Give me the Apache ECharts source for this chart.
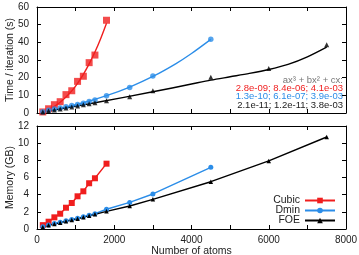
<!DOCTYPE html>
<html>
<head>
<meta charset="utf-8">
<script src="https://cdn.jsdelivr.net/npm/echarts@6/dist/echarts.min.js"></script>
<style>
  html, body { margin: 0; padding: 0; background: #ffffff; }
  #chart { width: 359px; height: 255px; }
</style>
</head>
<body>
<div id="chart"></div>
<script>
// number of atoms for each run
var atoms = [150, 300, 450, 600, 750, 900, 1050, 1200, 1350, 1500, 1800, 2400, 3000, 4500, 6000, 7500]

// time per iteration (s)
var cubicTime = [0.6, 2.4, 4.7, 6.4, 10.4, 12.6, 17.9, 20.8, 28.5, 32.8, 52.5]
var dminTime = [0.7, 1.5, 2.2, 2.9, 3.5, 4.2, 4.8, 5.5, 6.5, 7.4, 9.8, 14.5, 20.9, 41.7]
var foeTime = [0.6, 1.1, 1.7, 2.3, 2.9, 3.4, 4.0, 4.6, 5.2, 5.8, 7.0, 9.2, 12.6, 20.3, 25.2, 38.6]

// fitted curves
var cubicFitX = [150, 300, 450, 600, 750, 900, 1050, 1200, 1350, 1500, 1650, 1800]
var cubicFitY = [0.8, 2.1, 3.8, 6.1, 9.0, 12.5, 16.8, 21.9, 27.8, 34.5, 42.2, 50.8]
var dminFitX = [150, 600, 1200, 1800, 2400, 3000, 3600, 4000, 4500]
var dminFitY = [0.6, 2.6, 5.8, 9.8, 14.7, 20.7, 28.0, 33.7, 41.7]
var foeFitX = [150, 1500, 3000, 4000, 4500, 5000, 5500, 6000, 6500, 7000, 7500]
var foeFitY = [0.6, 5.8, 12.0, 16.4, 18.6, 20.5, 22.4, 24.6, 27.5, 31.8, 37.3]

// memory (GB)
var cubicMem = [0.45, 0.85, 1.36, 1.78, 2.48, 3.03, 3.81, 4.39, 5.33, 5.91, 7.61]
var dminMem = [0.25, 0.48, 0.63, 0.78, 0.95, 1.1, 1.25, 1.42, 1.6, 1.78, 2.3, 3.1, 4.08, 7.19]
var foeMem = [0.2, 0.43, 0.58, 0.73, 0.9, 1.05, 1.2, 1.36, 1.55, 1.71, 2.06, 2.68, 3.46, 5.51, 7.93, 10.72]

// fit coefficients text
var fitHead = 'ax³ + bx² + cx:'
var fitCubic = '2.8e-09; 8.4e-06; 4.1e-03'
var fitDmin = '1.3e-10; 6.1e-07; 3.9e-03'
var fitFoe = '2.1e-11; 1.2e-11; 3.8e-03'

var RED = '#f01e1e'
var BLUE = '#2b8de8'
var BLACK = '#000000'
var FONT = 'Liberation Sans'

function pairs(xs, ys) {
  return ys.map(function(v, i) { return [xs[i], v] })
}

function xAxisFor(grid, pos, labels, name) {
  return {
    type: 'value', gridIndex: grid, position: pos,
    min: 0, max: 8000, interval: 1000,
    name: name, nameLocation: 'middle', nameGap: 17, nameMoveOverlap: false,
    nameTextStyle: { fontFamily: FONT, fontSize: 10.5, color: '#222' },
    axisLine: { show: true, onZero: false, lineStyle: { color: '#000', width: 1 } },
    axisTick: { show: true, inside: true, length: 4, lineStyle: { color: '#000' } },
    axisLabel: {
      show: labels, margin: 6, fontFamily: FONT, fontSize: 10, color: '#222',
      formatter: function(v) { return v % 2000 === 0 ? String(v) : '' }
    },
    splitLine: { show: false }
  }
}

function yAxisFor(grid, pos, max, interval, labels, name) {
  return {
    type: 'value', gridIndex: grid, position: pos,
    min: 0, max: max, interval: interval,
    name: name, nameLocation: 'middle', nameGap: 21, nameRotate: 90, nameMoveOverlap: false,
    nameTextStyle: { fontFamily: FONT, fontSize: 10.5, color: '#222' },
    axisLine: { show: true, onZero: false, lineStyle: { color: '#000', width: 1 } },
    axisTick: { show: true, inside: true, length: 4, lineStyle: { color: '#000' } },
    axisLabel: { show: labels, margin: 8, fontFamily: FONT, fontSize: 10, color: '#222' },
    splitLine: { show: false }
  }
}

function fitLine(name, xs, ys, color) {
  return {
    name: name, type: 'line', xAxisIndex: 0, yAxisIndex: 0,
    data: pairs(xs, ys), smooth: 0.3, showSymbol: false, symbol: 'none',
    lineStyle: { color: color, width: 1.4 }, silent: true, z: 2
  }
}

function points(name, ys, symbol, size, color) {
  return {
    name: name, type: 'scatter', xAxisIndex: 0, yAxisIndex: 0,
    data: pairs(atoms, ys), symbol: symbol, symbolSize: size,
    itemStyle: { color: color }, z: 3
  }
}

function memLine(name, ys, symbol, size, color) {
  return {
    name: name, type: 'line', xAxisIndex: 2, yAxisIndex: 2,
    data: pairs(atoms, ys), symbol: symbol, symbolSize: size, showAllSymbol: true,
    lineStyle: { color: color, width: 1.4 }, itemStyle: { color: color }
  }
}

var myChart = echarts.init(document.getElementById('chart'), null, { renderer: 'canvas' })

var option = {
  backgroundColor: '#ffffff',
  animation: false,
  grid: [
    { left: 37, right: 13, top: 7, height: 106, outerBoundsMode: 'none', containLabel: false },
    { left: 37, right: 13, top: 126, height: 103, outerBoundsMode: 'none', containLabel: false }
  ],
  xAxis: [
    xAxisFor(0, 'bottom', false, ''),
    xAxisFor(0, 'top', false, ''),
    xAxisFor(1, 'bottom', true, 'Number of atoms'),
    xAxisFor(1, 'top', false, '')
  ],
  yAxis: [
    yAxisFor(0, 'left', 60, 10, true, 'Time / iteration (s)'),
    yAxisFor(0, 'right', 60, 10, false, ''),
    yAxisFor(1, 'left', 12, 2, true, 'Memory (GB)'),
    yAxisFor(1, 'right', 12, 2, false, '')
  ],
  legend: {
    data: ['Cubic', 'Dmin', 'FOE'],
    orient: 'vertical',
    align: 'right',
    right: 23,
    top: 195,
    itemWidth: 30,
    itemHeight: 7,
    itemGap: -1,
    padding: 0,
    textStyle: { fontFamily: FONT, fontSize: 10.5, color: '#222', lineHeight: 10 }
  },
  graphic: [
    { type: 'text', right: 16, top: 75.5, style: { text: fitHead, fill: '#777', font: '9.5px "Liberation Sans"' } },
    { type: 'text', right: 16, top: 83.5, style: { text: fitCubic, fill: RED, font: '9.5px "Liberation Sans"' } },
    { type: 'text', right: 16, top: 91.5, style: { text: fitDmin, fill: BLUE, font: '9.5px "Liberation Sans"' } },
    { type: 'text', right: 16, top: 100, style: { text: fitFoe, fill: '#222', font: '9.5px "Liberation Sans"' } }
  ],
  series: [
    fitLine('Cubic fit', cubicFitX, cubicFitY, RED),
    fitLine('Dmin fit', dminFitX, dminFitY, BLUE),
    fitLine('FOE fit', foeFitX, foeFitY, BLACK),
    points('Cubic pts', cubicTime, 'rect', 7, RED),
    points('Dmin pts', dminTime, 'circle', 5.5, BLUE),
    points('FOE pts', foeTime, 'triangle', 5, BLACK),
    memLine('Cubic', cubicMem, 'rect', 6, RED),
    memLine('Dmin', dminMem, 'circle', 5, BLUE),
    memLine('FOE', foeMem, 'triangle', 4.5, BLACK)
  ]
}

myChart.setOption(option, true)
window.addEventListener('resize', () => {
  myChart.resize()
})
</script>
</body>
</html>
